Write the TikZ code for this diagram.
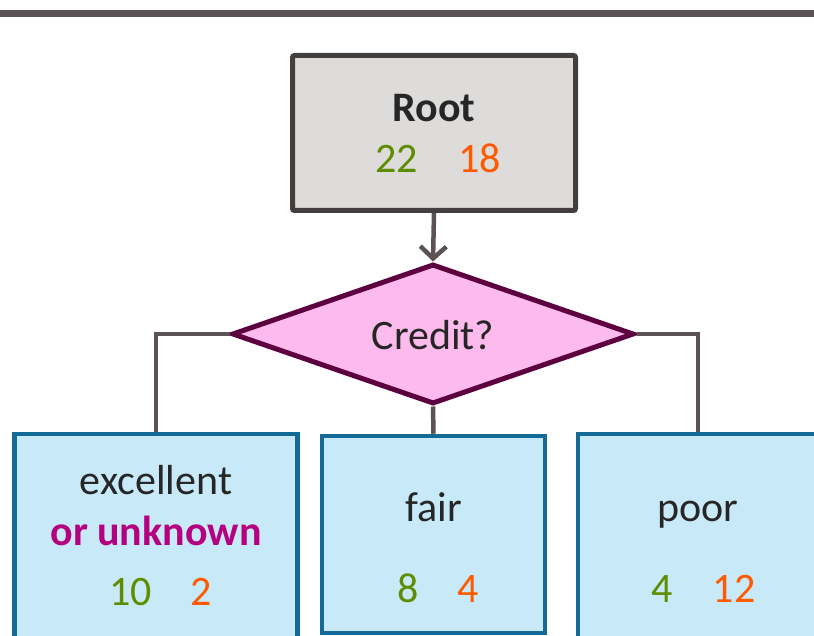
\documentclass[tikz,border=0pt]{standalone}
\usepackage{fontspec}
\setmainfont{Carlito}
\usetikzlibrary{shapes.geometric,arrows.meta}
\definecolor{barclr}{HTML}{5A5253}
\definecolor{rootedge}{HTML}{433F3F}
\definecolor{rootfill}{HTML}{DDDCDB}
\definecolor{yesclr}{HTML}{5F8D00}
\definecolor{noclr}{HTML}{FF5A00}
\definecolor{hiclr}{HTML}{B5007F}
\definecolor{diafill}{HTML}{FDBAEC}
\definecolor{diaedge}{HTML}{5C0040}
\definecolor{leafedge}{HTML}{146A96}
\definecolor{leaffill}{HTML}{C8EAF8}
\definecolor{txtclr}{HTML}{262626}
\tikzset{
  rootbox/.style={draw=rootedge, fill=rootfill, line width=5pt, rounded corners=2pt,
    inner sep=0pt, minimum width=283pt, minimum height=155pt},
  decision/.style={diamond, draw=diaedge, fill=diafill, line width=5pt, inner sep=0pt,
    minimum width=402pt, minimum height=140pt},
  leaf/.style={draw=leafedge, fill=leaffill, line width=4.5pt, inner sep=0pt},
  link/.style={draw=barclr, line width=4.5pt},
  lbl/.style={anchor=base, inner sep=0pt, text=txtclr, font=\fontsize{42}{50}\selectfont},
  yes/.style={lbl, text=yesclr},
  no/.style={lbl, text=noclr},
}
\begin{document}
\begin{tikzpicture}[x=1pt, y=-1pt]
  \clip (0,0) rectangle (814,636);
  \useasboundingbox (0,0) rectangle (814,636);
  \fill[barclr] (0,10) rectangle (814,17.5);

  % root and decision
  \node[rootbox] (root) at (434,133) {};
  \node[lbl, font=\fontsize{42}{50}\selectfont\bfseries] (roottitle) at (434,122) {Root};
  \node[yes] (rootyes) at (396.7,173) {22};
  \node[no] (rootno) at (479.5,173) {18};

  \node[decision] (credit) at (433,334) {};
  \node[lbl] (credittxt) at (433,349) {Credit?};

  % leaves
  \node[leaf, minimum width=282.6pt, minimum height=250pt] (exc) at (156,559) {};
  \node[leaf, minimum width=223pt, minimum height=197pt] (fair) at (433.5,534.5) {};
  \node[leaf, minimum width=240pt, minimum height=250pt] (poor) at (698,559) {};

  \node[lbl] (exctxt) at (156,494) {excellent};
  \node[lbl, text=hiclr, font=\fontsize{42}{50}\selectfont\bfseries] (unk) at (156,545) {or unknown};
  \node[yes] (excyes) at (130.6,605) {10};
  \node[no] (excno) at (201.5,605) {2};

  \node[lbl] (fairtxt) at (433.5,521.7) {fair};
  \node[yes] (fairyes) at (408,602.7) {8};
  \node[no] (fairno) at (468,602.7) {4};

  \node[lbl] (poortxt) at (698,521.7) {poor};
  \node[yes] (pooryes) at (662,602.7) {4};
  \node[no] (poorno) at (734,602.7) {12};

  % connectors
  \draw[link, -{Straight Barb[length=12pt, width=26pt, line width=4.5pt]}] (root.south) -- (credit.north);
  \draw[link] (credit.west) -| (exc.north);
  \draw[link] (credit.south) -- (fair.north);
  \draw[link] (credit.east) -| (poor.north);
\end{tikzpicture}
\end{document}
